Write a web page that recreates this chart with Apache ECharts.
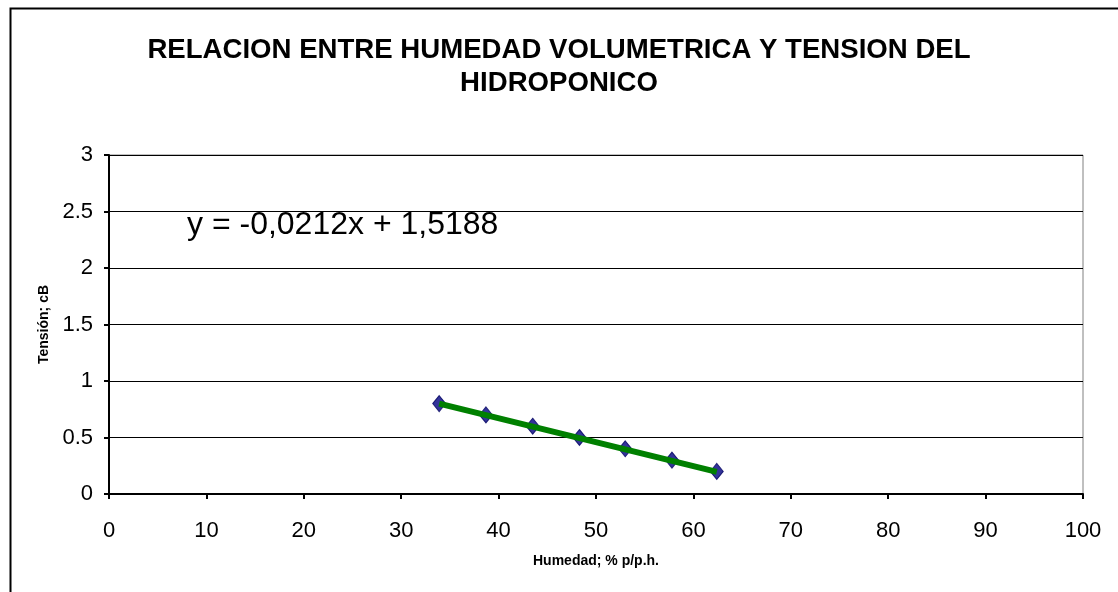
<!DOCTYPE html>
<html>
<head>
<meta charset="utf-8">
<script src="https://cdn.jsdelivr.net/npm/echarts@6/dist/echarts.min.js"></script>
<style>
  html, body { margin: 0; padding: 0; background: #fff; }
  #chart { width: 1118px; height: 592px; }
</style>
</head>
<body>
<div id="chart"></div>
<script>
'use strict';
// measured points (Humedad %, Tensión cB)
const humedad = [33.9, 38.7, 43.5, 48.3, 53.0, 57.8, 62.4];
const tension = [0.8, 0.7, 0.6, 0.5, 0.4, 0.3, 0.2];
// trend line endpoints
const trendX = [33.9, 62.4];
const trendY = [0.80, 0.196];
const xTicks = [0, 10, 20, 30, 40, 50, 60, 70, 80, 90, 100];
const yTicks = [0, 0.5, 1, 1.5, 2, 2.5, 3];
const equation = 'y = -0,0212x + 1,5188';

const FONT = '"Liberation Sans", Arial, sans-serif';
const chart = echarts.init(document.getElementById('chart'));

const pts = humedad.map((x, i) => [x, tension[i]]);
const trend = trendX.map((x, i) => [x, trendY[i]]);

chart.setOption({
  animation: false,
  backgroundColor: '#fff',
  textStyle: { fontFamily: FONT },
  title: {
    text: 'RELACION ENTRE HUMEDAD VOLUMETRICA Y TENSION DEL\nHIDROPONICO',
    left: 'center', top: 29,
    textStyle: { fontFamily: FONT, fontSize: 27.6, fontWeight: 'bold', color: '#000', lineHeight: 33 },
  },
  grid: { left: 109, right: 35, top: 155, bottom: 98, show: true, borderColor: '#808080', borderWidth: 1, containLabel: false },
  xAxis: {
    type: 'value', min: xTicks[0], max: xTicks[xTicks.length - 1], interval: 10,
    name: 'Humedad; % p/p.h.', nameLocation: 'middle', nameGap: 60,
    nameTextStyle: { fontFamily: FONT, fontSize: 14, fontWeight: 'bold', color: '#000' },
    axisLine: { onZero: false, lineStyle: { color: '#000', width: 2 } },
    axisTick: { show: true, length: 5, lineStyle: { color: '#000', width: 2 } },
    axisLabel: { fontFamily: FONT, fontSize: 22, color: '#000', margin: 26 },
    splitLine: { show: false },
  },
  yAxis: {
    type: 'value', min: yTicks[0], max: yTicks[yTicks.length - 1], interval: 0.5,
    name: 'Tensión; cB', nameLocation: 'middle', nameGap: 56, nameRotate: 90,
    nameTextStyle: { fontFamily: FONT, fontSize: 14, fontWeight: 'bold', color: '#000' },
    axisLine: { show: true, onZero: false, lineStyle: { color: '#000', width: 2 } },
    axisTick: { show: true, length: 5, lineStyle: { color: '#000', width: 2 } },
    axisLabel: { fontFamily: FONT, fontSize: 22, color: '#000', margin: 16 },
    splitLine: { show: true, lineStyle: { color: '#000', width: 1 } },
  },
  graphic: [
    { type: 'rect', left: 8, top: 6, z: -10, silent: true,
      shape: { width: 1200, height: 700 }, style: { fill: 'none', stroke: '#000', lineWidth: 2 } },
    { type: 'text', left: 187, top: 209, silent: true,
      style: { text: equation, fontFamily: FONT, fontSize: 32, fill: '#000' } },
  ],
  series: [
    { type: 'line', data: trend, symbol: 'none', z: 3,
      lineStyle: { color: '#008000', width: 6 } },
    { type: 'scatter', data: pts, symbol: 'diamond', symbolSize: [13, 16], z: 2,
      itemStyle: { color: '#000080', borderColor: '#000060', borderWidth: 1 } },
  ],
});
</script>
</body>
</html>
